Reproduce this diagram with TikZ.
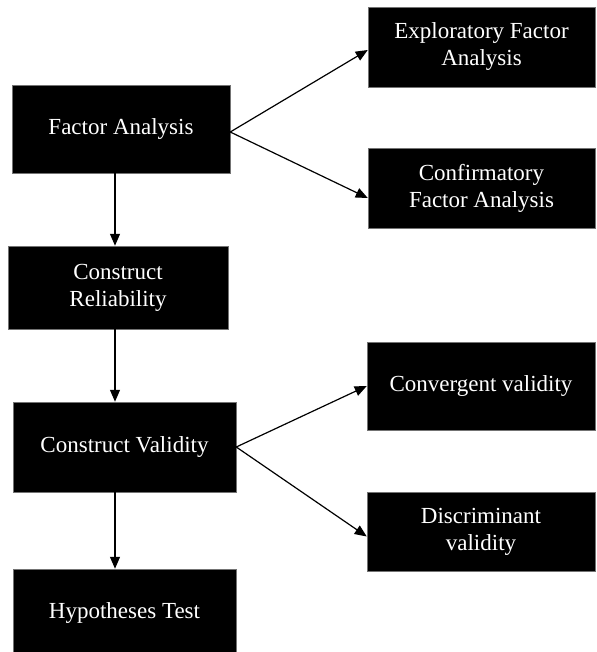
\documentclass[tikz,border=0pt]{standalone}
\usepackage{fontspec}
\setmainfont{Liberation Serif}
\usetikzlibrary{arrows.meta}

\begin{document}
\begin{tikzpicture}[x=1pt, y=-1pt,
  box/.style={fill=black, draw=black!55, line width=0.5pt, text=white,
    align=center, inner sep=0pt,
    font=\fontsize{23}{27}\selectfont},
  link/.style={line width=1.2pt, -{Triangle[length=12pt,width=10pt]}}]
  \useasboundingbox (0,0) rectangle (596,652);

  % left column: main steps
  \node[box, minimum width=218pt, minimum height=88pt] (fa)   at (121,129)   {Factor Analysis};
  \node[box, minimum width=220pt, minimum height=83pt] (cr)   at (118,287.5) {Construct\\Reliability};
  \node[box, minimum width=223pt, minimum height=90pt] (cv)   at (124.5,447) {Construct Validity};
  \node[box, minimum width=223pt, minimum height=88pt] (ht)   at (124.5,613) {Hypotheses Test};

  % right column: sub-analyses
  \node[box, minimum width=227pt, minimum height=80pt] (efa)  at (481.5,47)  {Exploratory Factor\\Analysis};
  \node[box, minimum width=227pt, minimum height=80pt] (cfa)  at (481.5,188) {Confirmatory\\Factor Analysis};
  \node[box, minimum width=228pt, minimum height=88pt] (conv) at (481,386)   {Convergent validity};
  \node[box, minimum width=228pt, minimum height=79pt] (disc) at (481,531.5) {Discriminant\\validity};

  % vertical flow line
  \coordinate (spine) at (115,0);
  \draw[link] (fa.south -| spine) -- (cr.north -| spine);
  \draw[link] (cr.south -| spine) -- (cv.north -| spine);
  \draw[link] (cv.south -| spine) -- (ht.north -| spine);

  % branches
  \draw[link] ([yshift=-3pt]fa.east) -- ([yshift=-3pt]efa.west);
  \draw[link] ([yshift=-3pt]fa.east) -- ([yshift=-10pt]cfa.west);
  \draw[link] (cv.east) -- (conv.west);
  \draw[link] (cv.east) -- ([yshift=-5pt]disc.west);
\end{tikzpicture}
\end{document}
